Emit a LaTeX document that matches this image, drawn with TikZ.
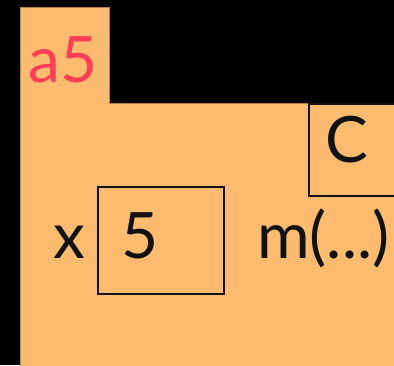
\documentclass[tikz,border=0pt]{standalone}
\usepackage{fontspec}
\setmainfont{Lato}
\usetikzlibrary{positioning}
\definecolor{objorange}{HTML}{FDBB6F}
\definecolor{objedge}{HTML}{B98446}
\definecolor{namered}{HTML}{FF3D55}
\definecolor{inkblack}{HTML}{111111}

\begin{document}
\begin{tikzpicture}[
    x=1pt, y=-1pt,
    every node/.style={text=inkblack, font=\fontsize{64}{64}\selectfont},
    objshape/.style={
        fill=objorange,
        draw=objedge,
        line width=0.5pt
    },
    slotbox/.style={
        rectangle,
        draw=inkblack,
        line width=2pt,
        inner sep=0pt
    },
    objname/.style={
        text=namered,
        font=\fontsize{64}{64}\selectfont
    }
]

\useasboundingbox (0,0) rectangle (394,365);
\fill[black] (0,0) rectangle (394,365);
\clip (0,0) rectangle (394,365);

% object with its name tab
\draw[objshape] (20,380) -- (20,7) -- (109,7) -- (109,103) -- (420,103) -- (420,380) -- cycle;

\node[objname, anchor=base] (name) at (63,82) {a5};

% class box
\node[slotbox, anchor=north west, minimum width=110pt, minimum height=92pt] (cls) at (308,103) {};
\node[anchor=base] (clsname) at (347,162) {C};

% field x
\node[slotbox, anchor=north west, minimum width=126pt, minimum height=107pt] (xbox) at (97,186) {};
\node[anchor=base east, inner sep=0pt] (xlabel) at (86,258) {x};
\node[anchor=base] (xval) at (140,258) {5};

% method
\node[anchor=base west, inner sep=0pt] (meth) at (257,258) {m(...)};

\end{tikzpicture}
\end{document}
